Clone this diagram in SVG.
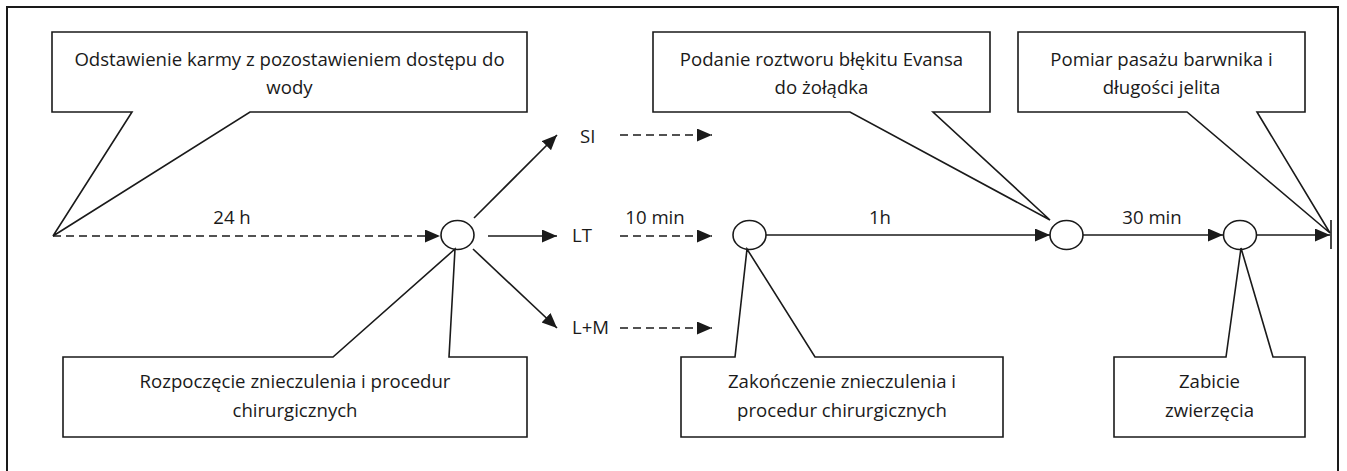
<svg xmlns="http://www.w3.org/2000/svg" width="1347" height="471" viewBox="0 0 1347 471">
<defs>
<style>
.frame{fill:none;stroke:#1a1a1a;stroke-width:2}
.call{fill:#fff;stroke:#1a1a1a;stroke-width:1.6;stroke-linejoin:miter}
.ln{fill:none;stroke:#1a1a1a;stroke-width:1.6}
.dash{stroke-dasharray:8 5}
.node{fill:#fff;stroke:#1a1a1a;stroke-width:1.6}
text{font-family:"Open Sans","Liberation Sans",sans-serif;font-size:18.6px;fill:#1a1a1a}
.c{text-anchor:middle}
</style>
<marker id="ah" markerUnits="userSpaceOnUse" markerWidth="16" markerHeight="14" refX="15" refY="6.5" orient="auto">
<path d="M0,0 L15,6.5 L0,13 z" fill="#1a1a1a"/>
</marker>
</defs>
<rect class="frame" x="7" y="7" width="1331" height="475"/>
<g id="connectors">
<line class="ln dash" x1="53" y1="236" x2="440" y2="236" marker-end="url(#ah)"/>
<line class="ln" x1="474" y1="218" x2="557" y2="135" marker-end="url(#ah)"/>
<line class="ln" x1="488" y1="236" x2="557" y2="236" marker-end="url(#ah)"/>
<line class="ln" x1="473" y1="249" x2="557" y2="328" marker-end="url(#ah)"/>
<line class="ln dash" x1="620" y1="135" x2="712" y2="135" marker-end="url(#ah)"/>
<line class="ln dash" x1="620" y1="236" x2="712" y2="236" marker-end="url(#ah)"/>
<line class="ln dash" x1="620" y1="328" x2="712" y2="328" marker-end="url(#ah)"/>
<line class="ln" x1="766" y1="235" x2="1050" y2="235" marker-end="url(#ah)"/>
<line class="ln" x1="1083" y1="235" x2="1223" y2="235" marker-end="url(#ah)"/>
<line class="ln" x1="1257" y1="235" x2="1330" y2="235" marker-end="url(#ah)"/>
<line class="ln" x1="1331" y1="220" x2="1331" y2="249"/>
<text class="c" x="232" y="224">24 h</text>
<text x="580" y="143">SI</text>
<text x="572" y="242">LT</text>
<text x="572" y="334">L+M</text>
<text class="c" x="655" y="224">10 min</text>
<text class="c" x="880" y="224">1h</text>
<text class="c" x="1152" y="224">30 min</text>
</g>
<g id="n1"><ellipse class="node" cx="457.5" cy="235" rx="16.5" ry="14.5"/></g>
<g id="n2"><ellipse class="node" cx="749.5" cy="235" rx="16.5" ry="14.5"/></g>
<g id="n3"><ellipse class="node" cx="1066.5" cy="235" rx="16.5" ry="14.5"/></g>
<g id="n4"><ellipse class="node" cx="1240" cy="235" rx="16.5" ry="14.5"/></g>
<g id="callout1">
<path class="call" d="M52,32 H527 V112 H250 L53,236 L132,112 H52 Z"/>
<text class="c" x="289.5" y="66">Odstawienie karmy z pozostawieniem dostępu do</text>
<text class="c" x="289.5" y="94">wody</text>
</g>
<g id="callout2">
<path class="call" d="M653,32 H990 V112 H933 L1050,220 L850,112 H653 Z"/>
<text class="c" x="821.5" y="66">Podanie roztworu błękitu Evansa</text>
<text class="c" x="821.5" y="94">do żołądka</text>
</g>
<g id="callout3">
<path class="call" d="M1018,32 H1305 V112 H1257 L1330,233 L1187,112 H1018 Z"/>
<text class="c" x="1161.5" y="66">Pomiar pasażu barwnika i</text>
<text class="c" x="1161.5" y="94">długości jelita</text>
</g>
<g id="callout4">
<path class="call" d="M63,357 H333 L455,249 L449,357 H527 V437 H63 Z"/>
<text class="c" x="295" y="388">Rozpoczęcie znieczulenia i procedur</text>
<text class="c" x="295" y="417">chirurgicznych</text>
</g>
<g id="callout5">
<path class="call" d="M681,357 H735 L747,249 L815,357 H1003 V437 H681 Z"/>
<text class="c" x="842" y="388">Zakończenie znieczulenia i</text>
<text class="c" x="842" y="417">procedur chirurgicznych</text>
</g>
<g id="callout6">
<path class="call" d="M1114,357 H1226 L1241,248 L1273,357 H1305 V437 H1114 Z"/>
<text class="c" x="1209.5" y="388">Zabicie</text>
<text class="c" x="1209.5" y="417">zwierzęcia</text>
</g>
</svg>
